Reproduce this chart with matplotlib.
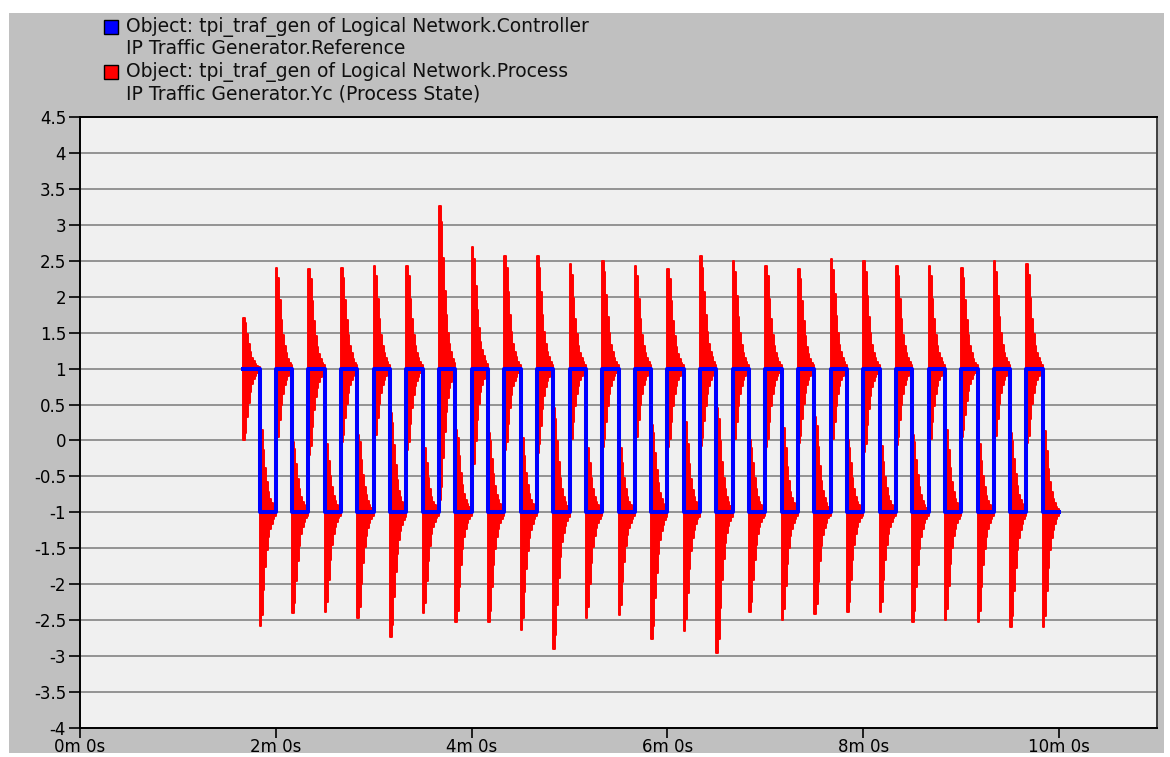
import matplotlib
matplotlib.use("Agg")
import matplotlib.pyplot as plt
from matplotlib.patches import Rectangle

# reference square wave: switches to +1 at rise_s, to -1 at fall_s (seconds)
rise_s = [100, 120, 140, 160, 180, 200, 220, 240, 260, 280, 300, 320, 340,
          360, 380, 400, 420, 440, 460, 480, 500, 520, 540, 560, 580]
fall_s = [110, 130, 150, 170, 190, 210, 230, 250, 270, 290, 310, 330, 350,
          370, 390, 410, 430, 450, 470, 490, 510, 530, 550, 570, 590]
end_s = 600

# process state: extremes for every switch
rise_peak = [1.70, 2.40, 2.38, 2.40, 2.43, 2.43, 3.26, 2.69, 2.56, 2.56, 2.45,
             2.50, 2.43, 2.38, 2.56, 2.49, 2.43, 2.38, 2.52, 2.49, 2.43, 2.43,
             2.40, 2.49, 2.45]
rise_dip = [0.00, -0.06, -0.20, -0.02, -0.02, -0.13, -0.83, -0.48, -0.13, -0.17,
            -0.09, -0.09, -0.06, -0.09, -0.08, -0.09, -0.09, -0.04, -0.09, -0.16,
            -0.06, -0.09, 0.05, -0.04, -0.04]
fall_trough = [-2.58, -2.40, -2.38, -2.47, -2.74, -2.40, -2.53, -2.53, -2.63,
               -2.90, -2.47, -2.43, -2.76, -2.65, -2.96, -2.38, -2.50, -2.42,
               -2.38, -2.38, -2.53, -2.50, -2.53, -2.60, -2.60]
fall_rebound = [0.28, -0.02, 0.05, 0.08, 0.38, 0.00, 0.15, 0.10, 0.15, 0.45,
                0.00, 0.00, 0.22, 0.40, 0.45, 0.00, 0.31, 0.33, 0.00, 0.03,
                0.08, 0.28, 0.05, 0.10, 0.26]

# envelope of the oscillation after each switch (fraction of the extreme)
decay_s = [0, 1, 2, 3, 4, 5, 6, 7, 8, 9, 10]
decay_frac = [1.0, 0.9, 0.68, 0.48, 0.33, 0.22, 0.15, 0.10, 0.06, 0.035, 0.02]

x_ticks = [0, 120, 240, 360, 480, 600]
x_labels = ["0m 0s", "2m 0s", "4m 0s", "6m 0s", "8m 0s", "10m 0s"]
y_ticks = [-4, -3.5, -3, -2.5, -2, -1.5, -1, -0.5, 0, 0.5, 1, 1.5, 2, 2.5, 3, 3.5, 4, 4.5]

legend_lines = [
    ("#0000ff", "Object: tpi_traf_gen of Logical Network.Controller"),
    (None, "IP Traffic Generator.Reference"),
    ("#ff0000", "Object: tpi_traf_gen of Logical Network.Process"),
    (None, "IP Traffic Generator.Yc (Process State)"),
]

plt.rcParams["font.family"] = ["DejaVu Sans"]

W, H = 1170, 757
fig = plt.figure(figsize=(W / 100, H / 100), dpi=100, facecolor="white")
fig.patches.append(Rectangle((9 / W, 1 - 753 / H), (1164 - 9) / W, (753 - 13) / H,
                             transform=fig.transFigure, facecolor="#c0c0c0",
                             edgecolor="none", zorder=-10))

ax = fig.add_axes([80 / W, 1 - 728 / H, (1157 - 80) / W, (728 - 117) / H])
ax.set_zorder(1)
ax.set_facecolor("#f0f0f0")


def envelope(t0, base, hi, lo):
    ts = [t0 + d for d in decay_s]
    up = [base + (hi - base) * f for f in decay_frac]
    dn = [base - (base - lo) * f for f in decay_frac]
    return ts, dn, up


for i in range(len(rise_s)):
    ts, dn, up = envelope(rise_s[i], 1.0, rise_peak[i], rise_dip[i])
    ax.fill_between(ts, dn, up, step="post", facecolor="#ff0000",
                    edgecolor="#ff0000", linewidth=1.4, antialiased=False, zorder=2)
    ts, dn, up = envelope(fall_s[i], -1.0, fall_rebound[i], fall_trough[i])
    ax.fill_between(ts, dn, up, step="post", facecolor="#ff0000",
                    edgecolor="#ff0000", linewidth=1.4, antialiased=False, zorder=2)

# reference
ref_t = []
ref_v = []
for r, f in zip(rise_s, fall_s):
    ref_t += [r, f]
    ref_v += [1, -1]
ref_t.append(end_s)
ref_v.append(-1)
ax.step(ref_t, ref_v, where="post", color="#0000ff", linewidth=2.9, zorder=3)

ax.set_xlim(0, 660)
ax.set_ylim(-4, 4.5)
ax.set_xticks(x_ticks)
ax.set_xticklabels(x_labels, fontsize=12)
ax.set_yticks(y_ticks)
ax.set_yticklabels([f"{v:g}" for v in y_ticks], fontsize=12)
ax.yaxis.grid(True, color="#8c8c8c", linewidth=1.3)
ax.set_axisbelow(True)
ax.tick_params(axis="y", direction="out", length=8, width=1.2, pad=2, colors="black")
ax.tick_params(axis="x", direction="out", length=7, width=1.2, pad=0.5, colors="black")
for side in ["left", "bottom", "top"]:
    ax.spines[side].set_color("black")
    ax.spines[side].set_linewidth(1.4)
ax.spines["right"].set_color("#404040")
ax.spines["right"].set_linewidth(1.4)

rows_y = [27, 49, 72, 94]
for (col, txt), y in zip(legend_lines, rows_y):
    if col:
        fig.patches.append(Rectangle((104 / W, 1 - (y + 7) / H), 14 / W, 14 / H,
                                     transform=fig.transFigure, facecolor=col,
                                     edgecolor="black", linewidth=1.0, zorder=3))
    fig.text(126 / W, 1 - y / H, txt, fontsize=13.5, va="center", ha="left",
             color="#101010")

fig.savefig("out.png", dpi=100, facecolor="white")
